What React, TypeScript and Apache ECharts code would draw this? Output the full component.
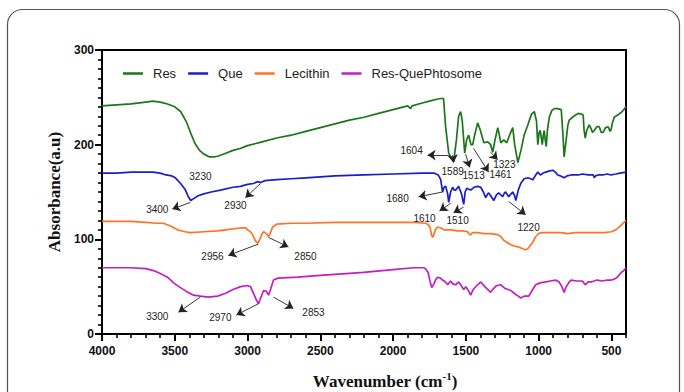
import React, { useEffect, useRef } from "react";
import * as echarts from "echarts";

// ---------- data ----------
const seriesNames = ["Res", "Que", "Lecithin", "Res-QuePhtosome"];
const seriesColors = ["#1b761b", "#1c1cc8", "#ff7326", "#c21ec2"];

const resWn = [4000, 3900, 3800, 3700, 3650, 3600, 3550, 3500, 3460, 3420, 3390, 3360, 3330, 3300, 3260, 3230, 3200, 3150, 3100, 3050, 3000, 2950, 2900, 2800, 2700, 2600, 2500, 2400, 2300, 2200, 2100, 2000, 1900, 1880, 1870, 1800, 1750, 1700, 1660, 1653, 1640, 1618, 1600, 1584, 1565, 1550, 1536, 1525, 1508, 1495, 1481, 1465, 1453, 1440, 1419, 1400, 1377, 1350, 1330, 1316, 1300, 1281, 1270, 1260, 1240, 1219, 1200, 1178, 1165, 1143, 1120, 1100, 1074, 1050, 1030, 1015, 1006, 997, 989, 980, 975, 968, 962, 955, 948, 940, 927, 910, 893, 870, 845, 835, 825, 815, 800, 790, 760, 728, 700, 694, 688, 680, 670, 653, 640, 630, 618, 600, 584, 570, 557, 540, 522, 510, 502, 495, 481, 460, 433, 415, 400];
const resAbs = [241, 242, 243, 245, 246, 245, 243, 240, 235, 224, 212, 201, 194, 190, 187, 187, 188, 191, 194, 196, 199, 201, 203, 207, 210, 214, 218, 222, 226, 229, 233, 237, 241, 238, 241, 244, 246, 248, 249, 248, 220, 191, 186, 182, 205, 230, 235, 225, 191, 205, 210, 200, 200, 210, 223, 215, 202, 203, 200, 192, 205, 218, 210, 202, 205, 202, 210, 218, 200, 181, 195, 210, 221, 232, 235, 225, 200, 213, 215, 205, 200, 210, 215, 205, 198, 215, 229, 236, 238, 238, 237, 215, 187, 200, 220, 226, 230, 233, 232, 231, 215, 207, 215, 221, 217, 213, 215, 219, 219, 213, 213, 218, 219, 214, 216, 222, 229, 231, 234, 237, 240];

const queWn = [4000, 3900, 3800, 3700, 3650, 3600, 3560, 3520, 3496, 3460, 3430, 3407, 3390, 3370, 3340, 3300, 3250, 3186, 3100, 3049, 3000, 2960, 2930, 2911, 2880, 2800, 2700, 2600, 2500, 2400, 2200, 2000, 1800, 1720, 1690, 1673, 1660, 1650, 1639, 1625, 1618, 1605, 1591, 1580, 1570, 1560, 1550, 1530, 1515, 1505, 1494, 1480, 1467, 1445, 1419, 1398, 1380, 1364, 1350, 1343, 1325, 1309, 1290, 1275, 1260, 1247, 1235, 1227, 1215, 1206, 1190, 1178, 1165, 1157, 1140, 1123, 1100, 1074, 1055, 1040, 1020, 1006, 995, 985, 970, 951, 930, 903, 885, 869, 850, 825, 805, 777, 750, 728, 700, 660, 625, 618, 610, 591, 560, 530, 502, 470, 440, 400];
const queAbs = [170, 170, 171, 171, 171, 170, 168, 167, 165, 159, 153, 145, 141, 143, 146, 148, 150, 152, 155, 156, 158, 159, 161, 160, 162, 163, 164, 165, 166, 167, 168, 169, 170, 170, 168, 163, 150, 155, 156, 148, 139, 150, 155, 152, 152, 154, 156, 148, 137, 150, 154, 153, 152, 155, 156, 155, 150, 144, 148, 149, 145, 141, 147, 149, 147, 145, 149, 150, 147, 145, 148, 150, 146, 141, 152, 159, 164, 165, 164, 163, 168, 171, 169, 168, 170, 171, 172, 173, 171, 168, 167, 165, 167, 168, 168, 168, 169, 168, 168, 165, 167, 168, 168, 169, 168, 169, 170, 171];

const lecWn = [4000, 3900, 3800, 3700, 3620, 3578, 3530, 3480, 3430, 3392, 3300, 3206, 3100, 3048, 3010, 3000, 2980, 2966, 2945, 2930, 2915, 2900, 2890, 2870, 2856, 2845, 2828, 2800, 2700, 2600, 2400, 2203, 2000, 1850, 1780, 1760, 1745, 1737, 1728, 1718, 1710, 1694, 1670, 1650, 1625, 1600, 1560, 1520, 1488, 1475, 1467, 1455, 1419, 1380, 1330, 1281, 1260, 1240, 1220, 1200, 1170, 1140, 1110, 1090, 1075, 1060, 1040, 1020, 1000, 985, 950, 900, 850, 800, 750, 700, 650, 600, 550, 500, 470, 440, 420, 400];
const lecAbs = [119, 119, 119, 118, 117, 117, 114, 110, 108, 107, 108, 109, 111, 112, 112, 110, 108, 105, 98, 96, 100, 106, 108, 106, 103, 106, 113, 116, 117, 117, 118, 118, 118, 118, 117, 116, 112, 105, 102, 106, 110, 113, 112, 110, 110, 110, 109, 109, 108, 105, 105, 107, 107, 106, 106, 105, 103, 99, 97, 95, 93, 92, 90, 89, 90, 93, 97, 103, 106, 107, 107, 107, 107, 106, 107, 107, 107, 107, 107, 108, 110, 114, 117, 120];

const phyWn = [4000, 3900, 3806, 3700, 3646, 3600, 3550, 3508, 3461, 3420, 3371, 3324, 3270, 3206, 3150, 3100, 3048, 3010, 3000, 2980, 2959, 2940, 2925, 2910, 2890, 2870, 2856, 2840, 2822, 2790, 2657, 2500, 2300, 2203, 2000, 1859, 1790, 1777, 1760, 1745, 1735, 1720, 1705, 1694, 1675, 1660, 1640, 1625, 1605, 1590, 1570, 1550, 1536, 1515, 1500, 1480, 1467, 1450, 1420, 1398, 1370, 1330, 1310, 1290, 1260, 1230, 1210, 1192, 1160, 1140, 1123, 1100, 1068, 1045, 1020, 990, 951, 920, 883, 860, 840, 825, 810, 790, 777, 740, 700, 680, 660, 639, 600, 560, 530, 502, 480, 460, 433, 415, 400];
const phyAbs = [70, 70, 70, 69, 67, 64, 60, 54, 49, 45, 41, 40, 39, 40, 43, 47, 50, 51, 51, 50, 43, 36, 32, 38, 46, 45, 41, 48, 57, 59, 60, 62, 64, 65, 68, 70, 70, 69, 65, 55, 49, 53, 58, 60, 59, 57, 55, 52, 56, 53, 52, 55, 52, 47, 50, 45, 41, 47, 52, 55, 50, 44, 48, 51, 52, 48, 47, 46, 42, 40, 38, 40, 40, 46, 52, 54, 55, 56, 57, 55, 50, 44, 50, 55, 57, 56, 56, 52, 55, 55, 57, 56, 57, 57, 58, 60, 65, 67, 70];

const xTickLabels = [4000, 3500, 3000, 2500, 2000, 1500, 1000, 500];
const yTickLabels = [0, 100, 200, 300];

// peak annotations: label, text position, arrow start, arrow end (data units)
const annotLabels = ["3230", "3400", "2930", "2956", "2850", "3300", "2970", "2853", "1680", "1610", "1510", "1220", "1604", "1589", "1513", "1461", "1323"];
const annotTextX = [3324, 3620, 3083, 3241, 2602, 3620, 3187, 2547, 1969, 1784, 1557, 1069, 1873, 1591, 1447, 1262, 1236];
const annotTextY = [166, 131, 136, 82, 82, 18, 17, 23, 143, 122, 120, 113, 194, 172, 167, 169, 179];
const arrowFromX = [NaN, 3393, 2911, 2925, 2856, 3324, 2925, 2822, 1660, 1605, 1516, 1206, 1619, 1591, 1502, 1447, 1330];
const arrowFromY = [NaN, 139, 159, 95, 102, 39, 32, 39, 150, 138, 134, 140, 189, 189, 190, 196, 192];
const arrowToX = [NaN, 3517, 3015, 3132, 2719, 3475, 3077, 2685, 1825, 1681, 1585, 1089, 1763, 1584, 1474, 1344, 1282];
const arrowToY = [NaN, 132, 144, 83, 92, 23, 20, 27, 145, 130, 128, 126, 189, 181, 176, 171, 184];

const allWn = [resWn, queWn, lecWn, phyWn];
const allAbs = [resAbs, queAbs, lecAbs, phyAbs];

const SANS = "'Liberation Sans', Arial, sans-serif";
const SERIF = "'Liberation Serif', 'Times New Roman', serif";

export default function App() {
  const ref = useRef<HTMLDivElement>(null);
  useEffect(() => {
    if (!ref.current) return;
    const chart = echarts.init(ref.current, undefined, { renderer: "svg" });

    const markLineData = annotLabels
      .map((_, i) => i)
      .filter((i) => !isNaN(arrowFromX[i]))
      .map((i) => [
        { coord: [arrowFromX[i], arrowFromY[i]] },
        { coord: [arrowToX[i], arrowToY[i]] },
      ]);
    const markPointData = annotLabels.map((l, i) => ({
      name: l,
      coord: [annotTextX[i], annotTextY[i]],
    }));

    const series: any[] = seriesNames.map((name, s) => ({
      name,
      type: "line",
      showSymbol: false,
      symbol: "none",
      data: allWn[s].map((w, i) => [w, allAbs[s][i]]),
      lineStyle: { color: seriesColors[s], width: 1.7 },
      itemStyle: { color: seriesColors[s] },
      z: 3,
    }));
    series[0].markLine = {
      silent: true,
      symbol: ["none", "arrow"],
      symbolSize: 8,
      label: { show: false },
      lineStyle: { color: "#222", width: 0.9, type: "solid" },
      itemStyle: { color: "#000" },
      data: markLineData,
    };
    series[0].markPoint = {
      silent: true,
      symbol: "circle",
      symbolSize: 1,
      itemStyle: { color: "rgba(0,0,0,0)" },
      label: {
        show: true,
        position: "inside",
        formatter: (p: any) => p.name,
        color: "#222",
        fontSize: 10,
        fontFamily: SANS,
      },
      data: markPointData,
    };

    chart.setOption({
      animation: false,
      backgroundColor: "#fff",
      grid: {
        left: 102,
        right: 58,
        top: 50,
        bottom: 58,
        show: true,
        borderColor: "#000",
        borderWidth: 2,
        containLabel: false,
      },
      legend: {
        data: seriesNames,
        left: 118,
        top: 62,
        icon: "rect",
        itemWidth: 20,
        itemHeight: 2.5,
        itemGap: 12,
        textStyle: { fontSize: 13, color: "#222", fontFamily: SANS, padding: [0, 0, 0, 5] },
      },
      xAxis: [
        {
          type: "value",
          min: 400,
          max: 4000,
          interval: 100,
          inverse: true,
          axisLine: { show: true, lineStyle: { color: "#000", width: 2 } },
          axisTick: { show: true, length: 4, lineStyle: { color: "#000", width: 1.6 } },
          axisLabel: {
            margin: 11,
            fontSize: 12,
            fontWeight: "bold",
            color: "#111",
            fontFamily: SANS,
            formatter: (v: number) => (xTickLabels.indexOf(v) >= 0 ? String(v) : ""),
          },
          splitLine: { show: false },
        },
        {
          type: "value",
          min: 400,
          max: 4000,
          interval: 100,
          inverse: true,
          position: "bottom",
          axisLine: { show: false },
          axisTick: { show: true, length: 7, customValues: xTickLabels, lineStyle: { color: "#000", width: 2 } },
          axisLabel: { show: false },
          splitLine: { show: false },
        },
      ],
      yAxis: [
        {
          type: "value",
          min: 0,
          max: 300,
          interval: 10,
          name: "Absorbance(a.u)",
          nameLocation: "middle",
          nameGap: 38,
          nameTextStyle: { fontFamily: SERIF, fontWeight: "bold", fontSize: 17, color: "#111" },
          axisLine: { show: true, lineStyle: { color: "#000", width: 2 } },
          axisTick: { show: true, length: 4, lineStyle: { color: "#000", width: 1.6 } },
          axisLabel: {
            margin: 8,
            fontSize: 12,
            fontWeight: "bold",
            color: "#111",
            fontFamily: SANS,
            formatter: (v: number) => (yTickLabels.indexOf(v) >= 0 ? String(v) : ""),
          },
          splitLine: { show: false },
        },
        {
          type: "value",
          min: 0,
          max: 300,
          interval: 100,
          position: "left",
          axisLine: { show: false },
          axisTick: { show: true, length: 7, lineStyle: { color: "#000", width: 2 } },
          axisLabel: { show: false },
          splitLine: { show: false },
        },
      ],
      graphic: [
        {
          type: "rect",
          shape: { x: 7.5, y: 9.5, width: 672, height: 400, r: 15 },
          style: { fill: "none", stroke: "#555", lineWidth: 1.2 },
          silent: true,
          z: -1,
        },
        {
          type: "text",
          x: 385,
          y: 380,
          style: {
            text: "{a|Wavenumber (cm}{b|-1}{a|)}",
            align: "center",
            verticalAlign: "middle",
            rich: {
              a: { fontFamily: SERIF, fontWeight: "bold", fontSize: 17, fill: "#111", lineHeight: 20, verticalAlign: "bottom" },
              b: { fontFamily: SERIF, fontWeight: "bold", fontSize: 11, fill: "#111", lineHeight: 20, verticalAlign: "top", padding: [0, 0, 8, 0] },
            },
          },
        },
      ],
      series,
    });
    return () => chart.dispose();
  }, []);
  return <div ref={ref} style={{ position: "absolute", left: 0, top: 0, width: 684, height: 392 }} />;
}
